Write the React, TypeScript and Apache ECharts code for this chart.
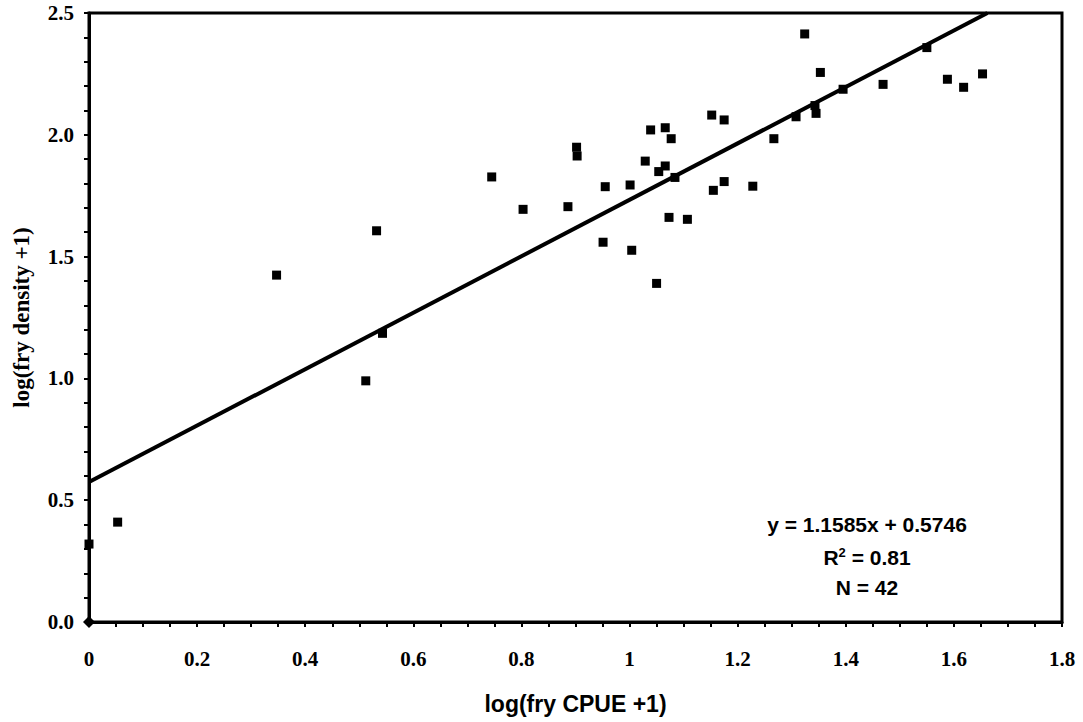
import React, { useEffect, useRef } from "react";
import * as echarts from "echarts";

const cpue = [
  0, 0.053, 0.347, 0.512, 0.532, 0.543, 0.745, 0.803, 0.886, 0.902, 0.903, 0.951,
  0.955, 1.001, 1.004, 1.029, 1.039, 1.05, 1.054, 1.066, 1.066, 1.073, 1.077, 1.084,
  1.107, 1.152, 1.155, 1.175, 1.175, 1.228, 1.267, 1.308, 1.324, 1.343, 1.345, 1.353,
  1.395, 1.469, 1.55, 1.588, 1.618, 1.653,
];
const density = [
  0.32, 0.41, 1.424, 0.99, 1.606, 1.185, 1.827, 1.694, 1.705, 1.949, 1.913, 1.559,
  1.787, 1.794, 1.526, 1.892, 2.02, 1.39, 1.849, 2.029, 1.872, 1.661, 1.984, 1.825,
  1.653, 2.081, 1.772, 2.061, 1.808, 1.789, 1.984, 2.074, 2.414, 2.12, 2.088, 2.256,
  2.187, 2.207, 2.358, 2.228, 2.195, 2.25,
];
const slope = 1.1585;
const intercept = 0.5746;
const xMax = 1.8;
const yMax = 2.5;
const statLines = ["y = 1.1585x + 0.5746", "R² = 0.81", "N = 42"];

export default function App() {
  const ref = useRef<HTMLDivElement>(null);
  useEffect(() => {
    document.body.style.margin = "0";
    const chart = echarts.init(ref.current!, null, { renderer: "svg" });
    const serif = "'Liberation Serif', 'Times New Roman', serif";
    const sans = "'Liberation Sans', Arial, sans-serif";
    const xEnd = (yMax - intercept) / slope;
    const fit = [
      [0, intercept],
      [xEnd, intercept + slope * xEnd],
    ];
    chart.setOption({
      animation: false,
      backgroundColor: "#fff",
      grid: {
        left: 89,
        right: 21,
        top: 13,
        bottom: 100,
        show: true,
        borderColor: "#000",
        borderWidth: 3,
      },
      xAxis: {
        type: "value",
        min: 0,
        max: xMax,
        interval: 0.05,
        name: "log(fry CPUE +1)",
        nameLocation: "middle",
        nameGap: 70,
        nameTextStyle: { fontFamily: sans, fontWeight: "bold", fontSize: 23, color: "#000" },
        axisLine: { lineStyle: { color: "#000", width: 3 } },
        axisTick: { show: true, inside: false, length: 5, lineStyle: { color: "#000", width: 2 } },
        splitLine: { show: false },
        axisLabel: {
          margin: 26,
          fontFamily: serif,
          fontWeight: "bold",
          fontSize: 21,
          color: "#000",
          formatter: (v: number) => {
            const k = v * 5;
            return Math.abs(k - Math.round(k)) < 1e-6 ? String(Math.round(v * 10) / 10) : "";
          },
        },
      },
      yAxis: {
        type: "value",
        min: 0,
        max: yMax,
        interval: 0.1,
        name: "log(fry density +1)",
        nameLocation: "middle",
        nameGap: 56,
        nameTextStyle: { fontFamily: serif, fontWeight: "bold", fontSize: 23, color: "#000" },
        axisLine: { lineStyle: { color: "#000", width: 3 } },
        axisTick: { show: true, inside: false, length: 5, lineStyle: { color: "#000", width: 2 } },
        splitLine: { show: false },
        axisLabel: {
          margin: 15,
          fontFamily: serif,
          fontWeight: "bold",
          fontSize: 21,
          color: "#000",
          formatter: (v: number) => {
            const k = v * 2;
            return Math.abs(k - Math.round(k)) < 1e-6 ? v.toFixed(1) : "";
          },
        },
      },
      graphic: [
        {
          type: "text",
          x: 867,
          y: 524,
          style: {
            text: statLines[0],
            fontFamily: sans,
            fontWeight: "bold",
            fontSize: 21,
            fill: "#000",
            align: "center",
            verticalAlign: "middle",
          },
        },
        {
          type: "text",
          x: 867,
          y: 557,
          style: {
            text: "{b|R}{s|2}{b| = 0.81}",
            align: "center",
            verticalAlign: "middle",
            rich: {
              b: { fontFamily: sans, fontWeight: "bold", fontSize: 21, color: "#000" },
              s: {
                fontFamily: sans,
                fontWeight: "bold",
                fontSize: 13,
                color: "#000",
                verticalAlign: "top",
                padding: [0, 0, 10, 0],
              },
            },
          },
        },
        {
          type: "text",
          x: 867,
          y: 587,
          style: {
            text: statLines[2],
            fontFamily: sans,
            fontWeight: "bold",
            fontSize: 21,
            fill: "#000",
            align: "center",
            verticalAlign: "middle",
          },
        },
      ],
      series: [
        {
          type: "line",
          data: fit,
          showSymbol: false,
          symbol: "none",
          lineStyle: { color: "#000", width: 4 },
          z: 3,
        },
        {
          type: "scatter",
          data: cpue.map((x, i) => [x, density[i]]),
          symbol: "rect",
          symbolSize: 9,
          clip: false,
          itemStyle: { color: "#000", opacity: 1 },
          z: 4,
        },
        {
          type: "scatter",
          data: [[0, 0]],
          symbol: "diamond",
          symbolSize: 12,
          clip: false,
          itemStyle: { color: "#000", opacity: 1 },
          zlevel: 1,
        },
      ],
    });
    return () => chart.dispose();
  }, []);
  return (
    <div
      ref={ref}
      style={{ position: "fixed", left: 0, top: 0, width: 1083, height: 722, background: "#fff" }}
    />
  );
}
